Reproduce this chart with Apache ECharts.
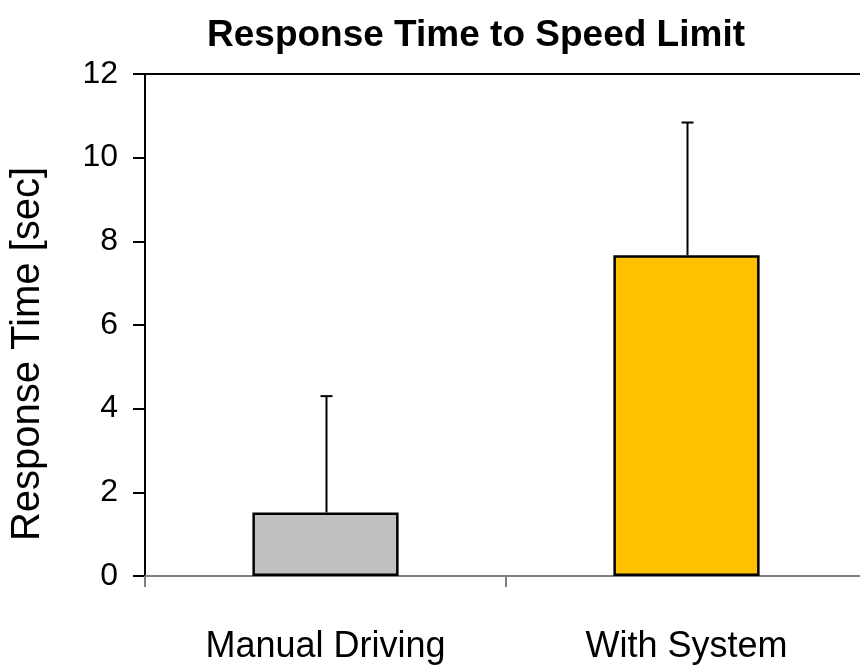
<!DOCTYPE html>
<html>
<head>
<meta charset="utf-8">
<script src="https://cdn.jsdelivr.net/npm/echarts@6/dist/echarts.min.js"></script>
<style>html,body{margin:0;padding:0;background:#fff;}#c{width:860px;height:666px;}</style>
</head>
<body>
<div id="c"></div>
<script>
var categories = ['Manual Driving', 'With System'];
var means = [1.52, 7.67];
var errorTops = [4.3, 10.84];
var barColors = ['#C0C0C0', '#FFC000'];
var yTicks = [0, 2, 4, 6, 8, 10, 12];
var yTitle = 'Response Time [sec]';

var chart = echarts.init(document.getElementById('c'));
var font = 'Liberation Sans, Arial, sans-serif';

var errData = categories.map(function (c, i) { return [i, means[i], errorTops[i]]; });

chart.setOption({
  animation: false,
  backgroundColor: '#fff',
  title: {
    text: 'Response Time to Speed Limit',
    left: 471, top: 12, textAlign: 'center',
    textStyle: { fontFamily: font, fontWeight: 'bold', fontSize: 37, color: '#000' }
  },
  graphic: [{
    type: 'text',
    x: 28, y: 354,
    rotation: Math.PI / 2,
    style: { text: yTitle, fontFamily: font, fontSize: 40, fill: '#000',
      textAlign: 'center', textVerticalAlign: 'middle' }
  }],
  grid: { left: 145, top: 74, width: 722, bottom: 90, outerBoundsMode: 'none' },
  xAxis: [{
    type: 'category',
    data: categories,
    axisLine: { lineStyle: { color: '#808080', width: 2 } },
    axisTick: { show: true, length: 11, lineStyle: { color: '#808080', width: 2 } },
    axisLabel: { fontFamily: font, fontSize: 36, color: '#000', margin: 53 }
  }, {
    type: 'category',
    position: 'top',
    data: categories,
    axisLine: { show: true, lineStyle: { color: '#000', width: 2 } },
    axisTick: { show: false },
    axisLabel: { show: false }
  }],
  yAxis: {
    type: 'value',
    min: 0, max: 12, interval: 2,
    axisLine: { show: true, lineStyle: { color: '#000', width: 2 } },
    axisTick: { show: true, length: 12, lineStyle: { color: '#000', width: 2 } },
    axisLabel: { fontFamily: font, fontSize: 32, color: '#000', margin: 27,
      formatter: function (v) { return yTicks.indexOf(v) >= 0 ? String(v) : ''; } },
    splitLine: { show: false }
  },
  series: [{
    type: 'bar',
    data: means.map(function (v, i) {
      return { value: v, itemStyle: { color: barColors[i] } };
    }),
    barWidth: '40.5%',
    itemStyle: { borderColor: '#000', borderWidth: 2.5 },
    z: 2
  }, {
    type: 'custom',
    data: errData,
    z: 3,
    renderItem: function (params, api) {
      var base = api.coord([api.value(0), api.value(1)]);
      var top = api.coord([api.value(0), api.value(2)]);
      var x = Math.round(base[0]) + 0.5;
      return {
        type: 'group',
        children: [{
          type: 'line',
          shape: { x1: x, y1: base[1], x2: x, y2: top[1] },
          style: { stroke: '#000', lineWidth: 2 }
        }, {
          type: 'line',
          shape: { x1: x - 6, y1: top[1], x2: x + 6, y2: top[1] },
          style: { stroke: '#000', lineWidth: 2 }
        }]
      };
    }
  }]
});
</script>
</body>
</html>
